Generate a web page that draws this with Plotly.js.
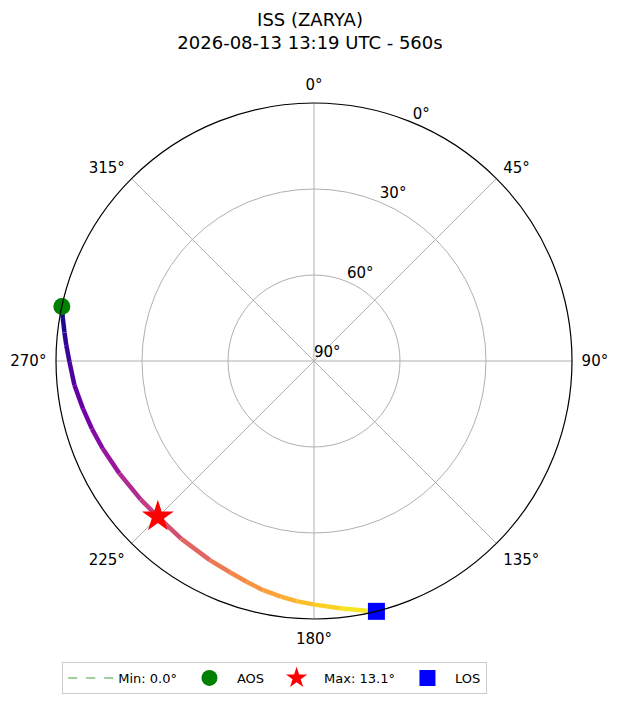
<!DOCTYPE html>
<html>
<head>
<meta charset="utf-8">
<script src="https://cdn.plot.ly/plotly-3.0.1.min.js"></script>
<style>
  html, body { margin: 0; padding: 0; background: #fff; }
  #plot { width: 620px; height: 702px; }
</style>
</head>
<body>
<div id="plot"></div>
<script>
const satName = 'ISS (ZARYA)';
const passStart = '2026-08-13 13:19 UTC';
const passSeconds = 560;

// pass track: azimuth (deg, clockwise from north) and elevation (deg), AOS -> LOS
const trackAz = [282.2, 279.7, 276.5, 273.7, 269.8, 264.3, 258.4, 253.0, 247.5, 240.0, 231.4, 225.1,
                 216.8, 207.6, 201.7, 197.0, 192.5, 188.0, 184.2, 180.2, 174.0, 168.1, 166.0];
const trackEl = [0.0, 1.1, 2.4, 3.4, 4.7, 6.0, 7.7, 9.0, 10.2, 11.6, 12.6, 13.1,
                 12.6, 11.6, 10.7, 9.5, 8.1, 7.0, 6.0, 5.1, 3.3, 1.0, 0.0];

const azTicks = [0, 45, 90, 135, 180, 225, 270, 315];
const azLabels = ['0°', '45°', '90°', '135°', '180°', '225°', '270°', '315°'];
const elTicks = [0, 30, 60, 90];
const elLabels = ['0°', '30°', '60°', '90°'];
const elLabelAz = 22.5;   // azimuth where the elevation labels sit

// plasma colormap stops
const plasma = ['#0d0887', '#41049d', '#6a00a8', '#8f0da4', '#b12a90', '#cc4778',
                '#e16462', '#f2844b', '#fca636', '#fcce25', '#f0f921'];

function hexToRgb(h) {
  return [parseInt(h.slice(1, 3), 16), parseInt(h.slice(3, 5), 16), parseInt(h.slice(5, 7), 16)];
}
function plasmaAt(t) {
  t = Math.max(0, Math.min(1, t));
  let pos = t * (plasma.length - 1);
  let i = Math.min(Math.floor(pos), plasma.length - 2);
  let f = pos - i;
  let a = hexToRgb(plasma[i]), b = hexToRgb(plasma[i + 1]);
  let c = a.map((v, k) => Math.round(v + (b[k] - v) * f));
  return `rgb(${c[0]},${c[1]},${c[2]})`;
}

let n = trackAz.length;
let maxEl = Math.max(...trackEl);
let minEl = Math.min(...trackEl);
let maxIdx = trackEl.indexOf(maxEl);

var traces = [];

// track coloured by progress through the pass
let span = trackAz[0] - trackAz[n - 1];
for (let i = 0; i < n - 1; i++) {
  let mid = (trackAz[i] + trackAz[i + 1]) / 2;
  traces.push({
    type: 'scatterpolar',
    r: [trackEl[i], trackEl[i + 1]],
    theta: [trackAz[i], trackAz[i + 1]],
    mode: 'lines',
    line: { color: plasmaAt((trackAz[0] - mid) / span), width: 4.5 },
    showlegend: false,
    hoverinfo: 'skip',
  });
}

traces.push({
  type: 'scatterpolar',
  r: [null], theta: [null],
  mode: 'lines',
  line: { color: 'rgba(0,128,0,0.5)', width: 1.5, dash: 'dash' },
  name: `Min: ${minEl.toFixed(1)}°`,
});
traces.push({
  type: 'scatterpolar',
  r: [trackEl[0]], theta: [trackAz[0]],
  mode: 'markers',
  marker: { color: 'green', size: 17, symbol: 'circle' },
  name: 'AOS',
});
traces.push({
  type: 'scatterpolar',
  r: [maxEl], theta: [trackAz[maxIdx]],
  mode: 'markers',
  marker: { color: 'red', size: 24, symbol: 'star' },
  name: `Max: ${maxEl.toFixed(1)}°`,
});
traces.push({
  type: 'scatterpolar',
  r: [trackEl[n - 1]], theta: [trackAz[n - 1]],
  mode: 'markers',
  marker: { color: 'blue', size: 17, symbol: 'square' },
  name: 'LOS',
});

// elevation labels on an overlaid, unclipped polar, matplotlib style
traces.push({
  type: 'scatterpolar',
  subplot: 'polar2',
  r: elTicks,
  theta: elTicks.map(() => elLabelAz),
  mode: 'text',
  text: elLabels,
  textposition: 'top right',
  textfont: { size: 15, color: 'black' },
  cliponaxis: false,
  showlegend: false,
  hoverinfo: 'skip',
});

const angular = {
  rotation: 90,
  direction: 'clockwise',
  tickmode: 'array',
  tickvals: azTicks,
  ticktext: azLabels,
  ticks: 'outside',
  ticklen: 6,
  tickcolor: 'rgba(0,0,0,0)',
  showline: true,
  linecolor: 'black',
  linewidth: 1.2,
  gridcolor: '#b0b0b0',
  gridwidth: 1,
  tickfont: { size: 15 },
};
const radial = {
  range: [90, 0],
  angle: 67.5,
  tickmode: 'array',
  tickvals: elTicks,
  showticklabels: false,
  ticks: '',
  showline: false,
  gridcolor: '#b0b0b0',
  gridwidth: 1,
};

var layout = {
  width: 620,
  height: 702,
  font: { family: 'DejaVu Sans', color: 'black', size: 15 },
  paper_bgcolor: 'white',
  title: {
    text: `${satName}<br>${passStart} - ${passSeconds}s`,
    font: { size: 18 },
    x: 0.5,
    xanchor: 'center',
    y: 0.963,
    yanchor: 'top',
    yref: 'container',
  },
  margin: { l: 56, r: 48, t: 103, b: 83 },
  polar: {
    domain: { x: [0, 1], y: [0, 1] },
    bgcolor: 'white',
    angularaxis: angular,
    radialaxis: radial,
  },
  polar2: {
    domain: { x: [0, 1], y: [0, 1] },
    bgcolor: 'rgba(0,0,0,0)',
    angularaxis: Object.assign({}, angular, { showline: false, showgrid: false, showticklabels: false }),
    radialaxis: Object.assign({}, radial, { showgrid: false }),
  },
  showlegend: true,
  legend: {
    orientation: 'h',
    x: 0.012,
    xanchor: 'left',
    xref: 'paper',
    y: 1 - 662 / 702,
    yanchor: 'top',
    yref: 'container',
    bordercolor: '#cccccc',
    borderwidth: 1,
    font: { size: 13 },
    itemwidth: 45,
    bgcolor: 'white',
  },
};

Plotly.newPlot('plot', traces, layout, { displayModeBar: false });
</script>
</body>
</html>
